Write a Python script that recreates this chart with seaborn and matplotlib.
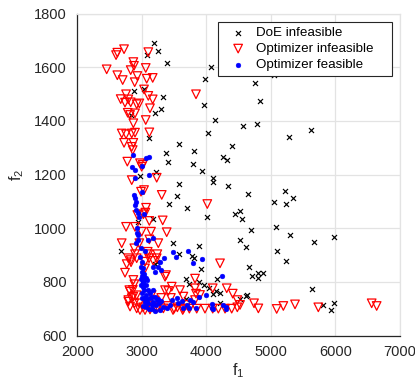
import numpy as np
import pandas as pd
import matplotlib
matplotlib.use("Agg")
import matplotlib.pyplot as plt
import seaborn as sns

# ---- data ----
doe_f1 = [3193, 3246, 3075, 3385, 4071, 3984, 5052, 4758, 4831, 3323, 3038, 2873, 3968, 3292,
          3199, 2838, 4134, 4572, 4779, 5616, 5285, 4030, 3116, 3580, 4402, 3379, 3808, 3400,
          3788, 4258, 4324, 3937, 3219, 2976, 4098, 4098, 3571, 4330, 4640, 5223, 5337, 5238,
          5048, 3549, 3426, 3695, 4005, 4448, 4521, 4552, 3178, 2936, 4691, 5080, 5296, 4525,
          4619, 5667, 5977, 5099, 5229, 3886, 3487, 3580, 2682, 3772, 3808, 3917, 3204, 3235,
          4660, 4702, 4795, 4795, 4882, 4160, 3684, 3736, 3881, 3968, 4045, 4149, 4107, 4211,
          4614, 4634, 4521, 4211, 3680, 5632, 5812, 5982, 5931]
doe_f2 = [1689, 1660, 1644, 1617, 1599, 1555, 1571, 1540, 1473, 1490, 1519, 1511, 1458, 1443,
          1430, 1420, 1403, 1381, 1387, 1366, 1340, 1356, 1337, 1314, 1306, 1281, 1289, 1248,
          1238, 1266, 1254, 1213, 1208, 1193, 1188, 1173, 1166, 1158, 1128, 1138, 1111, 1091,
          1096, 1121, 1089, 1075, 1043, 1052, 1065, 1033, 1033, 1024, 993, 1005, 975, 956,
          929, 948, 966, 915, 878, 934, 946, 904, 915, 897, 888, 848, 865, 873,
          856, 822, 832, 815, 834, 809, 809, 793, 799, 788, 778, 767, 755, 757,
          747, 751, 735, 722, 735, 772, 714, 722, 695]

optinf_f1 = [2724, 2620, 2600, 2455, 2868, 2878, 2827, 2620, 2703, 2930, 2889, 3100, 3060, 3075,
             3168, 3839, 3034, 2755, 2672, 2790, 2739, 2827, 2920, 2961, 3100, 3168, 3126, 2781,
             2817, 2894, 2868, 3060, 3116, 2688, 2755, 2843, 2894, 2724, 2868, 2843, 2858, 2775,
             2971, 3013, 2843, 3230, 3034, 3308, 2997, 2987, 3065, 3054, 2930, 3023, 3116, 3323,
             2755, 2894, 2997, 3142, 3385, 4014, 2688, 2961, 3116, 3255, 2883, 3091, 2894, 3100,
             3240, 3230, 3111, 2920, 2827, 2790, 2765, 2832, 3049, 3178, 3049, 2739, 3374, 3359,
             4211, 3824, 2868, 2884, 2806, 2817, 3359, 3410, 3463, 3591, 3643, 3824, 3901, 4098,
             4315, 4408, 4479, 4521, 4738, 4805, 5089, 5192, 5373, 5734, 6561, 6638, 2790, 2868,
             3152, 3695, 3839, 3824, 3643, 3736, 3850, 3978, 4098, 4185, 4289, 4392, 4479, 2790,
             2843, 2817, 2883, 2920, 2971, 3049, 3126, 3230, 3333, 2860, 2920, 2960, 3020, 3090,
             3200, 3300, 3250, 3400, 3500, 3550, 3450, 3483, 3633]
optinf_f2 = [1667, 1654, 1645, 1592, 1619, 1605, 1589, 1570, 1552, 1567, 1544, 1656, 1597, 1557,
             1560, 1499, 1517, 1499, 1481, 1480, 1468, 1469, 1462, 1465, 1493, 1480, 1447, 1430,
             1422, 1428, 1391, 1403, 1357, 1353, 1350, 1353, 1356, 1318, 1318, 1303, 1291, 1248,
             1242, 1236, 1179, 1188, 1142, 1124, 1229, 1136, 1076, 1058, 1049, 1052, 1027, 1029,
             1005, 1005, 987, 987, 985, 1090, 944, 944, 958, 944, 925, 912, 903, 903,
             903, 888, 888, 888, 881, 888, 866, 873, 875, 878, 850, 834, 825, 819,
             869, 812, 807, 791, 769, 763, 769, 766, 782, 769, 745, 776, 751, 776,
             776, 756, 732, 714, 720, 701, 699, 710, 716, 705, 720, 710, 726, 745,
             751, 714, 756, 732, 700, 700, 700, 700, 700, 700, 700, 700, 705, 732,
             739, 708, 720, 701, 695, 695, 697, 701, 701, 770, 750, 720, 705, 712,
             730, 740, 705, 710, 700, 705, 740, 695, 695]

optfeas_f1 = [2858, 3065, 3106, 2843, 2894, 2997, 3116, 2894, 3008, 2878, 2894, 2909, 2894, 2909,
              2945, 2961, 3034, 2920, 2930, 2936, 2945, 2905, 3100, 3178, 2987, 3049, 2971, 2997,
              2987, 3008, 3348, 3281, 3255, 3178, 3297, 3204, 3487, 3529, 3720, 3937, 3797, 4242,
              3989, 3886, 3746, 3797, 3694, 3643, 3736, 3839, 4082, 4082, 4107, 4262, 4304, 4304,
              3463, 3540, 3617, 3436, 3565, 3333, 3385, 3281, 3204, 3000, 3020, 3010, 3040, 3000,
              3060, 3030, 3080, 3050, 3100, 3120, 3150, 3000, 2990, 3070, 3130, 3180, 3220, 3260,
              3300, 3020, 3060, 3110, 3160, 2980, 3040, 3090, 3150, 3200, 3250, 3020, 3060, 3038,
              3075, 3023, 3178, 3230]
optfeas_f2 = [1272, 1262, 1266, 1229, 1217, 1233, 1198, 1186, 1136, 1124, 1111, 1099, 1086, 1068,
              1055, 1043, 1052, 999, 981, 975, 956, 944, 956, 962, 927, 915, 894, 875,
              856, 838, 888, 875, 856, 856, 844, 838, 910, 893, 916, 885, 869, 823,
              751, 745, 732, 726, 714, 703, 703, 703, 716, 701, 698, 714, 708, 699,
              732, 738, 728, 714, 720, 708, 701, 695, 692, 820, 800, 780, 770, 760,
              750, 740, 735, 725, 720, 740, 715, 740, 790, 790, 760, 725, 715, 720,
              730, 710, 705, 700, 700, 810, 830, 770, 745, 745, 735, 850, 815, 819,
              807, 800, 769, 732]

x_ticks = [2000, 3000, 4000, 5000, 6000, 7000]
y_ticks = [600, 800, 1000, 1200, 1400, 1600, 1800]

# ---- styling ----
sns.set_style("white")
plt.rcParams["font.family"] = ["Liberation Sans", "DejaVu Sans"]
plt.rcParams["mathtext.fontset"] = "custom"
plt.rcParams["mathtext.rm"] = "Liberation Sans"
plt.rcParams["mathtext.it"] = "Liberation Sans"

fig = plt.figure(figsize=(4.15, 3.83), dpi=100)
ax = fig.add_axes([0.1863, 0.124, 0.7776, 0.8407])

sns.scatterplot(x=doe_f1, y=doe_f2, ax=ax, marker="x", color="black", s=13,
                linewidth=0.85, label="DoE infeasible", zorder=3)
sns.scatterplot(x=optinf_f1, y=optinf_f2, ax=ax, marker="v", facecolor="none",
                edgecolor="red", s=38, linewidth=0.9, label="Optimizer infeasible", zorder=4)
sns.scatterplot(x=optfeas_f1, y=optfeas_f2, ax=ax, marker="o", color="blue",
                edgecolor="blue", s=12, linewidth=0.3, label="Optimizer feasible", zorder=5)

ax.set_xlim(2000, 7000)
ax.set_ylim(600, 1800)
ax.set_xticks(x_ticks)
ax.set_yticks(y_ticks)
ax.set_xticklabels([str(t) for t in x_ticks], fontsize=10.5, color="#262626")
ax.set_yticklabels([str(t) for t in y_ticks], fontsize=10.5, color="#262626")
ax.grid(True, color="#e3e3e3", linewidth=0.9, zorder=0)
ax.set_axisbelow(True)
ax.tick_params(axis="both", direction="in", length=3, width=0.8, colors="#262626",
               labelcolor="#262626", top=False, right=False)
ax.tick_params(axis="y", pad=7.5)
ax.tick_params(axis="x", pad=6.5)

for side in ["top", "right"]:
    ax.spines[side].set_color("#e3e3e3")
    ax.spines[side].set_linewidth(0.9)
for side in ["left", "bottom"]:
    ax.spines[side].set_color("#262626")
    ax.spines[side].set_linewidth(0.9)

ax.set_xlabel("f$_1$", fontsize=11.5, color="#262626", labelpad=2)
ax.set_ylabel("f$_2$", fontsize=11.5, color="#262626", labelpad=6)

leg = ax.legend(loc="upper left", bbox_to_anchor=(0.436, 0.5, 0.539, 0.474), mode="expand",
                borderaxespad=0, fancybox=False, edgecolor="#262626", framealpha=1,
                fontsize=9.6, handletextpad=0.17, borderpad=0.36, labelspacing=0.28,
                handlelength=2.3, markerscale=1.0)
leg.get_frame().set_linewidth(0.8)
for t in leg.get_texts():
    t.set_color("black")

fig.savefig("out.png", dpi=100)
